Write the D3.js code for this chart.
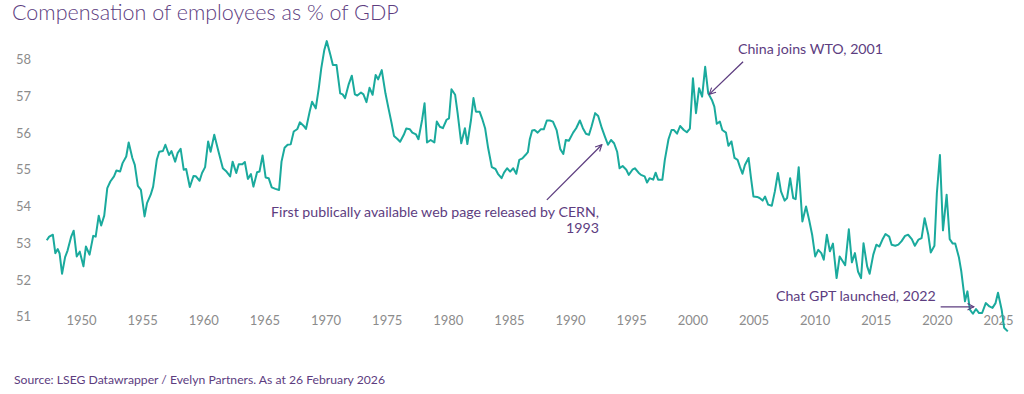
<!DOCTYPE html>
<html>
<head>
<meta charset="utf-8">
<script src="https://cdn.jsdelivr.net/npm/d3@7"></script>
<style>
  body { margin: 0; background: #fff; }
  svg { display: block; font-family: Lato, "Open Sans", sans-serif; }
</style>
</head>
<body>
<div id="chart"></div>
<script>
// Compensation of employees as % of GDP (vertices)
const years = [
  1947.2, 1947.4, 1947.7, 1947.9, 1948.1, 1948.25, 1948.45, 1948.7, 1948.9, 1949.2,
  1949.4, 1949.65, 1949.9, 1950.2, 1950.4, 1950.7, 1951.0, 1951.2, 1951.45, 1951.65,
  1951.9, 1952.15, 1952.4, 1952.7, 1952.9, 1953.2, 1953.4, 1953.7, 1953.9, 1954.2,
  1954.4, 1954.65, 1954.9, 1955.2, 1955.4, 1955.7, 1955.9, 1956.2, 1956.4, 1956.7,
  1956.9, 1957.2, 1957.4, 1957.7, 1957.9, 1958.15, 1958.4, 1958.6, 1958.9, 1959.2,
  1959.4, 1959.7, 1959.9, 1960.15, 1960.4, 1960.6, 1960.9, 1961.25, 1961.6, 1961.9,
  1962.2, 1962.4, 1962.7, 1962.9, 1963.2, 1963.4, 1963.65, 1963.9, 1964.1, 1964.4,
  1964.6, 1964.85, 1965.1, 1965.35, 1965.6, 1965.9, 1966.2, 1966.4, 1966.65, 1966.9,
  1967.15, 1967.4, 1967.7, 1967.9, 1968.2, 1968.4, 1968.7, 1968.9, 1969.2, 1969.45,
  1969.65, 1969.9, 1970.1, 1970.4, 1970.6, 1970.9, 1971.2, 1971.4, 1971.6, 1971.9,
  1972.15, 1972.4, 1972.6, 1972.9, 1973.1, 1973.35, 1973.6, 1973.85, 1974.1, 1974.3,
  1974.6, 1974.9, 1975.15, 1975.4, 1975.6, 1975.9, 1976.1, 1976.4, 1976.6, 1976.9,
  1977.1, 1977.4, 1977.6, 1977.9, 1978.1, 1978.3, 1978.6, 1978.9, 1979.1, 1979.35,
  1979.6, 1979.9, 1980.1, 1980.3, 1980.6, 1980.8, 1981.1, 1981.4, 1981.6, 1981.9,
  1982.1, 1982.3, 1982.6, 1982.8, 1983.05, 1983.3, 1983.6, 1983.9, 1984.1, 1984.4,
  1984.6, 1984.85, 1985.1, 1985.35, 1985.6, 1985.85, 1986.1, 1986.35, 1986.55, 1986.7,
  1986.9, 1987.1, 1987.35, 1987.6, 1987.85, 1988.1, 1988.35, 1988.6, 1988.9, 1989.2,
  1989.45, 1989.65, 1989.9, 1990.25, 1990.5, 1990.8, 1991.05, 1991.3, 1991.55, 1991.75,
  1992.05, 1992.3, 1992.6, 1992.85, 1993.1, 1993.35, 1993.6, 1993.85, 1994.05, 1994.3,
  1994.6, 1994.8, 1995.1, 1995.3, 1995.6, 1995.8, 1996.1, 1996.3, 1996.5, 1996.8,
  1997.0, 1997.2, 1997.55, 1997.75, 1998.05, 1998.3, 1998.5, 1998.75, 1999.0, 1999.3,
  1999.55, 1999.8, 2000.05, 2000.3, 2000.55, 2000.8, 2001.05, 2001.3, 2001.6, 2001.8,
  2002.0, 2002.25, 2002.45, 2002.75, 2002.95, 2003.2, 2003.45, 2003.7, 2003.9, 2004.1,
  2004.3, 2004.6, 2004.8, 2005.0, 2005.3, 2005.5, 2005.75, 2005.95, 2006.2, 2006.5,
  2006.75, 2007.0, 2007.25, 2007.55, 2007.75, 2008.0, 2008.25, 2008.45, 2008.7, 2009.0,
  2009.3, 2009.55, 2009.8, 2010.05, 2010.3, 2010.55, 2010.75, 2011.0, 2011.25, 2011.5,
  2011.8, 2012.05, 2012.3, 2012.5, 2012.8, 2013.05, 2013.3, 2013.55, 2013.8, 2014.0,
  2014.3, 2014.5, 2014.8, 2015.05, 2015.3, 2015.55, 2015.8, 2016.1, 2016.3, 2016.6,
  2016.85, 2017.1, 2017.4, 2017.65, 2017.95, 2018.2, 2018.5, 2018.75, 2019.0, 2019.3,
  2019.5, 2019.8, 2020.0, 2020.25, 2020.5, 2020.8, 2021.05, 2021.3, 2021.5, 2021.8,
  2022.0, 2022.3, 2022.5, 2022.7, 2022.95, 2023.2, 2023.45, 2023.7, 2024.0, 2024.3,
  2024.55, 2024.8, 2025.0, 2025.3, 2025.5, 2025.8
];
const values = [
  53.08, 53.18, 53.23, 52.73, 52.84, 52.72, 52.17, 52.62, 52.80, 53.18,
  53.34, 52.64, 52.77, 52.37, 52.91, 52.69, 53.20, 53.18, 53.75, 53.48,
  53.75, 54.50, 54.68, 54.82, 54.98, 54.95, 55.18, 55.36, 55.74, 55.32,
  55.13, 54.56, 54.45, 53.73, 54.09, 54.32, 54.54, 55.27, 55.49, 55.51,
  55.68, 55.40, 55.51, 55.22, 55.45, 55.57, 55.00, 55.02, 54.53, 54.83,
  54.82, 54.70, 54.91, 55.07, 55.77, 55.49, 55.95, 55.49, 55.04, 54.95,
  54.82, 55.22, 54.91, 55.15, 55.15, 55.21, 54.75, 54.88, 54.54, 54.93,
  54.95, 55.39, 54.79, 54.77, 54.52, 54.48, 54.45, 55.22, 55.60, 55.68,
  55.69, 56.04, 56.11, 56.29, 56.20, 56.11, 56.58, 56.85, 56.67, 57.22,
  57.76, 58.26, 58.50, 58.12, 57.85, 57.85, 57.08, 57.05, 56.95, 57.33,
  57.56, 57.05, 57.02, 57.10, 57.05, 56.84, 57.23, 57.04, 57.58, 57.46,
  57.71, 57.08, 56.67, 56.27, 55.92, 55.83, 55.76, 55.95, 56.12, 56.10,
  56.01, 55.96, 55.83, 56.36, 56.81, 55.74, 55.81, 55.74, 56.31, 56.17,
  56.13, 56.36, 56.40, 57.19, 57.04, 56.55, 55.72, 56.13, 55.70, 56.36,
  56.95, 56.58, 56.58, 56.40, 56.13, 55.59, 55.07, 55.02, 54.89, 54.77,
  54.92, 55.04, 54.95, 55.04, 54.89, 55.27, 55.31, 55.40, 55.48, 55.82,
  56.07, 56.08, 56.01, 56.10, 56.10, 56.34, 56.34, 56.31, 56.08, 55.56,
  55.43, 55.81, 55.79, 56.01, 56.13, 56.34, 56.13, 55.98, 55.95, 56.17,
  56.54, 56.46, 56.13, 55.90, 55.68, 55.81, 55.72, 55.49, 55.04, 55.10,
  55.00, 54.86, 55.00, 55.04, 54.92, 54.86, 54.82, 54.65, 54.77, 54.73,
  54.92, 54.73, 54.73, 55.27, 55.83, 56.08, 56.08, 55.98, 56.19, 56.08,
  56.02, 56.12, 57.49, 56.54, 57.22, 56.99, 57.80, 57.08, 56.90, 56.72,
  56.25, 56.31, 56.08, 56.01, 55.65, 55.77, 55.32, 55.27, 55.07, 54.89,
  55.13, 55.32, 54.77, 54.27, 54.26, 54.23, 54.16, 54.27, 54.05, 54.02,
  54.41, 54.91, 54.41, 54.16, 54.23, 54.77, 54.23, 54.20, 55.07, 53.59,
  54.00, 53.64, 53.23, 52.64, 52.82, 52.73, 52.55, 53.23, 52.78, 52.99,
  52.05, 52.64, 52.51, 52.40, 53.38, 52.48, 52.73, 52.23, 52.05, 53.00,
  52.37, 52.17, 52.69, 52.96, 52.91, 53.10, 53.25, 53.18, 52.96, 52.93,
  52.96, 53.05, 53.20, 53.23, 53.11, 52.93, 53.10, 53.14, 53.68, 53.23,
  52.75, 52.93, 54.36, 55.40, 53.35, 54.32, 53.11, 52.99, 52.99, 52.62,
  52.23, 51.42, 51.69, 51.19, 51.08, 51.21, 51.10, 51.10, 51.37, 51.28,
  51.24, 51.37, 51.65, 51.19, 50.70, 50.60
];
const yTicks = [51, 52, 53, 54, 55, 56, 57, 58];
const xTicks = [1950, 1955, 1960, 1965, 1970, 1975, 1980, 1985, 1990, 1995, 2000, 2005, 2010, 2015, 2020, 2025];

const title = "Compensation of employees as % of GDP";
const source = "Source: LSEG Datawrapper / Evelyn Partners. As at 26 February 2026";

// annotations: text anchor and arrow ends in data units
const notes = [
  { lines: ["First publically available web page released by CERN,", "1993"],
    tx: 1992.37, ty: 53.72, anchor: "end", from: [1988.1, 54.18], to: [1992.6, 55.68] },
  { lines: ["China joins WTO, 2001"],
    tx: 2003.73, ty: 58.16, anchor: "start", from: [2004.15, 57.94], to: [2001.38, 57.05] },
  { lines: ["Chat GPT launched, 2022"],
    tx: 2006.84, ty: 51.44, anchor: "start", from: [2020.31, 51.27], to: [2023.03, 51.27] }
];

const width = 1024, height = 394;
const teal = "#1aaa9d", purple = "#5d3d7f", grey = "#8c8c8c";

const x = d3.scaleLinear().domain([1950, 2025]).range([81, 998]);
const y = d3.scaleLinear().domain([51, 58]).range([316.7, 59.5]);

const svg = d3.select("#chart").append("svg")
  .attr("width", width)
  .attr("height", height);

svg.append("defs").append("marker")
  .attr("id", "arrow")
  .attr("viewBox", "0 0 10 10")
  .attr("refX", 9).attr("refY", 5)
  .attr("markerWidth", 8).attr("markerHeight", 8)
  .attr("markerUnits", "userSpaceOnUse")
  .attr("orient", "auto")
  .append("path")
  .attr("d", "M1,1 L9,5 L1,9")
  .attr("fill", "none")
  .attr("stroke", purple)
  .attr("stroke-width", 1.4);

svg.append("text")
  .attr("x", 12).attr("y", 20)
  .attr("fill", purple)
  .attr("font-size", 21.5)
  .attr("font-weight", 300)
  .text(title);

// y axis labels
svg.append("g")
  .attr("transform", "translate(31,0)")
  .call(d3.axisLeft(y).tickValues(yTicks).tickFormat(d3.format("d")).tickSize(0).tickPadding(0))
  .call(g => g.select(".domain").remove())
  .call(g => g.selectAll("text")
    .attr("fill", grey)
    .attr("font-size", 13)
    .attr("font-family", "Lato, sans-serif"));

// x axis labels
svg.append("g")
  .attr("transform", "translate(0,316)")
  .call(d3.axisBottom(x).tickValues(xTicks).tickFormat(d3.format("d")).tickSize(0).tickPadding(0))
  .call(g => g.select(".domain").remove())
  .call(g => g.selectAll("text")
    .attr("fill", grey)
    .attr("font-size", 13)
    .attr("font-family", "Lato, sans-serif"));

const line = d3.line()
  .x((d, i) => x(years[i]))
  .y(d => y(d));

svg.append("path")
  .datum(values)
  .attr("fill", "none")
  .attr("stroke", teal)
  .attr("stroke-width", 2)
  .attr("stroke-linejoin", "round")
  .attr("d", line);

const ann = svg.append("g").attr("fill", purple).attr("font-size", 14.2);
notes.forEach(n => {
  ann.append("line")
    .attr("x1", x(n.from[0])).attr("y1", y(n.from[1]))
    .attr("x2", x(n.to[0])).attr("y2", y(n.to[1]))
    .attr("stroke", purple)
    .attr("stroke-width", 1.3)
    .attr("marker-end", "url(#arrow)");
  const t = ann.append("text")
    .attr("x", x(n.tx)).attr("y", y(n.ty))
    .attr("text-anchor", n.anchor);
  n.lines.forEach((l, i) => {
    t.append("tspan")
      .attr("x", x(n.tx))
      .attr("dy", i ? 16.6 : 0)
      .text(l);
  });
});

svg.append("text")
  .attr("x", 14).attr("y", 384)
  .attr("fill", purple)
  .attr("font-size", 12.2)
  .text(source);
</script>
</body>
</html>
